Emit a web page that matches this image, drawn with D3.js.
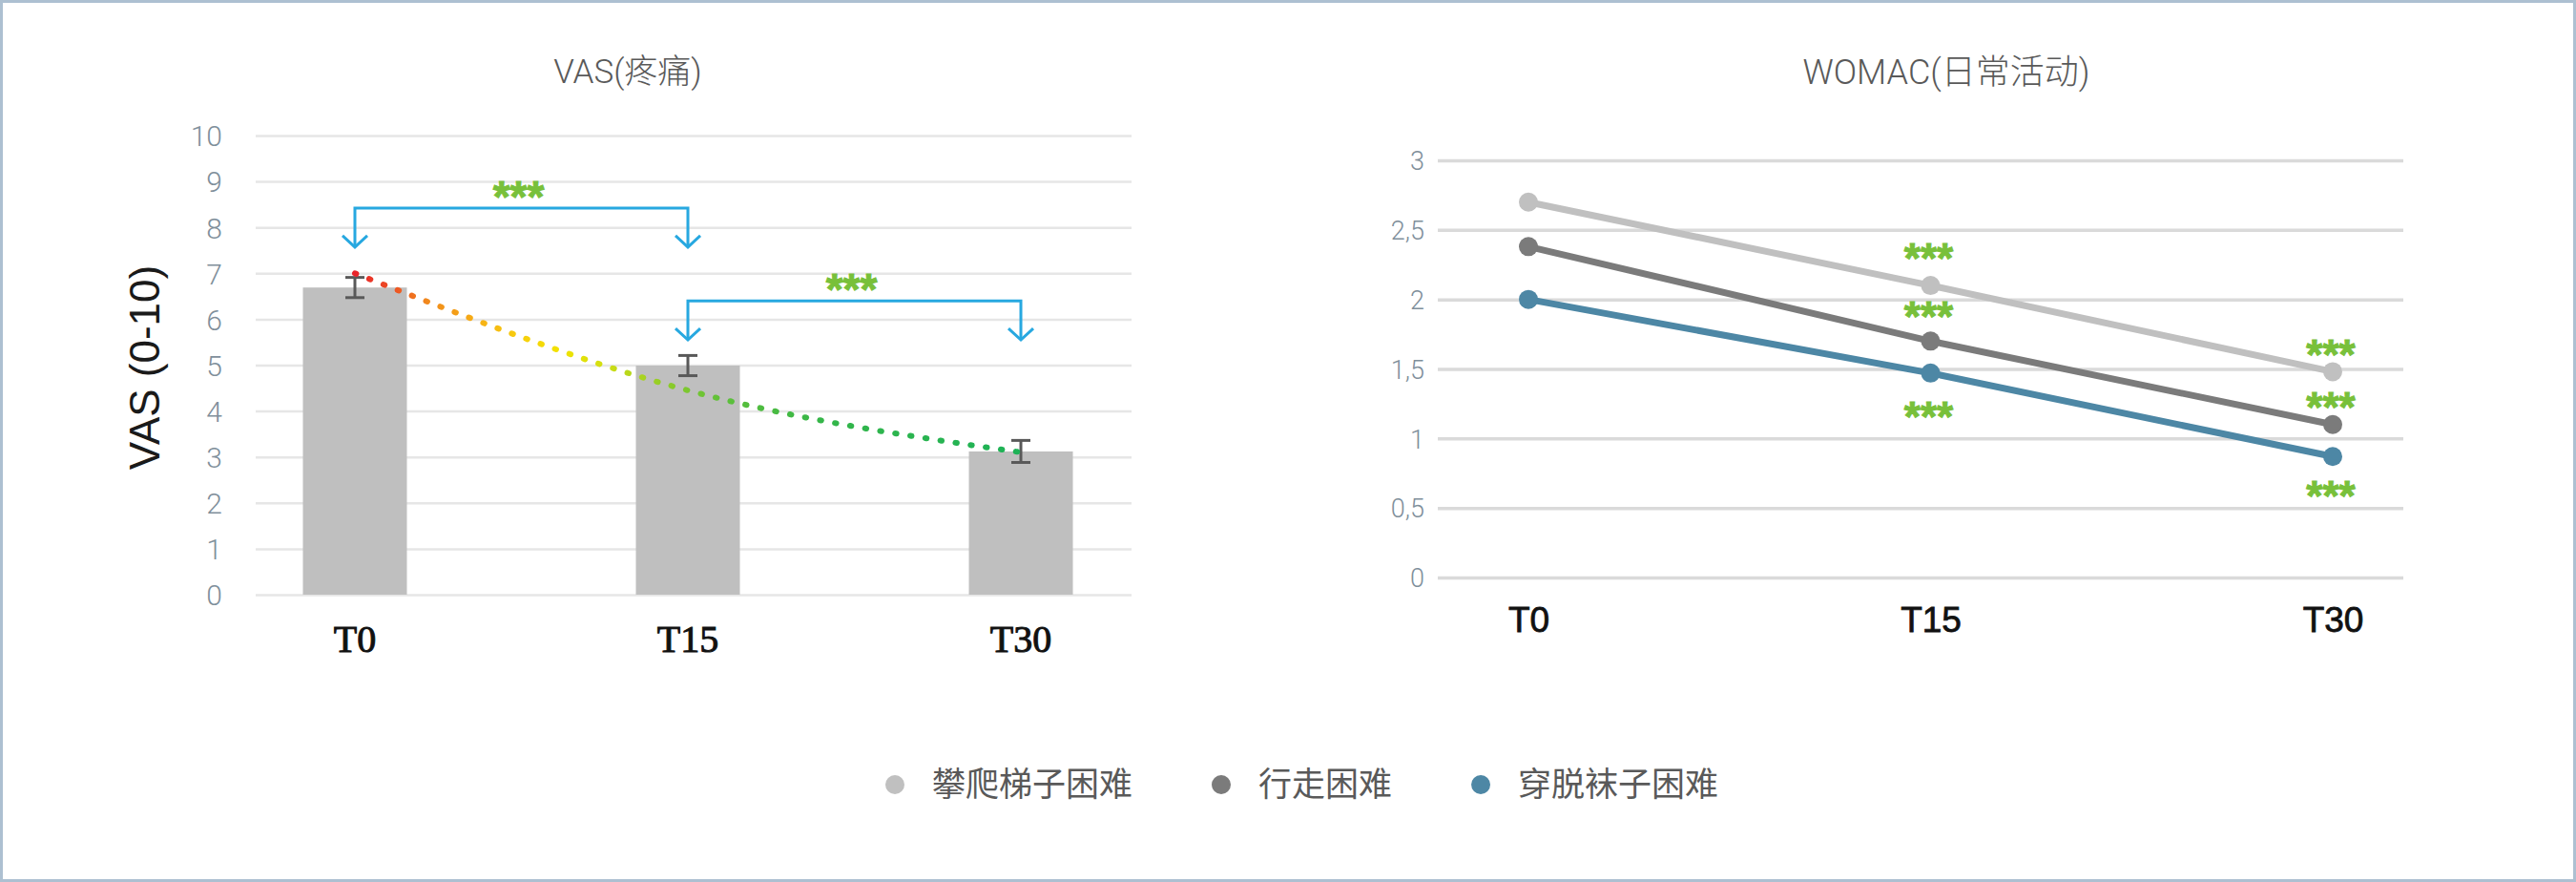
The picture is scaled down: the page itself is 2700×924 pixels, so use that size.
<!DOCTYPE html>
<html><head><meta charset="utf-8">
<script src="https://cdnjs.cloudflare.com/ajax/libs/d3/7.8.5/d3.min.js"></script>
<style>
html,body{margin:0;padding:0;background:#fff;}
svg{display:block;}
</style></head><body>
<svg id="chart" width="2700" height="924"></svg>
<script>
// ---------- data ----------
const vasCategories = ["T0", "T15", "T30"];
const vasMeans = [6.69, 4.99, 3.12];
const vasErrors = [0.22, 0.22, 0.24];
const vasTrend = [7.0, 4.45, 3.1];
const vasTicks = [0, 1, 2, 3, 4, 5, 6, 7, 8, 9, 10];
const vasComparisons = [["T0", "T15", "***"], ["T15", "T30", "***"]];

const womacCategories = ["T0", "T15", "T30"];
const womacSeriesNames = ["攀爬梯子困难", "行走困难", "穿脱袜子困难"];
const climbValues = [2.7, 2.1, 1.48];
const walkValues = [2.38, 1.7, 1.1];
const sockValues = [2.0, 1.47, 0.87];
const womacTicks = [0, 0.5, 1, 1.5, 2, 2.5, 3];
const womacStars = ["***", "***", "***"];

// ---------- setup ----------
const svg = d3.select("#chart");
const SANS = "'Liberation Sans', Arial, 'Noto Sans CJK SC', sans-serif";
const LIGHT = "Roboto, 'Liberation Sans', sans-serif";
const CJK = "'Noto Sans CJK SC', 'Liberation Sans', sans-serif";

svg.append("rect").attr("x", 1.5).attr("y", 1.5).attr("width", 2697).attr("height", 921)
  .attr("fill", "#fff").attr("stroke", "#adc0d1").attr("stroke-width", 3);

// ================= LEFT: VAS =================
const yL = d3.scaleLinear().domain([0, 10]).range([623, 142]);
const xL = d3.scaleBand().domain(vasCategories).range([197.5, 1244.5])
  .paddingInner(0.6877).paddingOuter(0.3438);
const cx = c => xL(c) + xL.bandwidth() / 2;
const gridL0 = 268, gridL1 = 1186;

const gL = svg.append("g");
const yAxisL = gL.append("g").attr("transform", `translate(${gridL0},0)`)
  .call(d3.axisLeft(yL).tickValues(vasTicks).tickSize(-(gridL1 - gridL0)).tickPadding(35));
yAxisL.select(".domain").remove();
yAxisL.selectAll(".tick line").attr("stroke", "#e6e6e6").attr("stroke-width", 2.5);
yAxisL.selectAll(".tick text").attr("font-family", LIGHT).attr("font-weight", 300)
  .attr("font-size", 30).attr("fill", "#7f8f9b").attr("dy", "0.36em");

// bars
gL.selectAll("rect.bar").data(vasCategories).join("rect").attr("class", "bar")
  .attr("x", d => xL(d)).attr("width", xL.bandwidth())
  .attr("y", (d, i) => yL(vasMeans[i])).attr("height", (d, i) => yL(0) - yL(vasMeans[i]))
  .attr("fill", "#bfbfbf");

// error bars
const eb = gL.selectAll("g.err").data(vasCategories).join("g").attr("class", "err")
  .attr("stroke", "#595959").attr("stroke-width", 3);
eb.append("line").attr("x1", d => cx(d)).attr("x2", d => cx(d))
  .attr("y1", (d, i) => yL(vasMeans[i] + vasErrors[i])).attr("y2", (d, i) => yL(vasMeans[i] - vasErrors[i]));
eb.append("line").attr("x1", d => cx(d) - 10).attr("x2", d => cx(d) + 10)
  .attr("y1", (d, i) => yL(vasMeans[i] + vasErrors[i])).attr("y2", (d, i) => yL(vasMeans[i] + vasErrors[i]));
eb.append("line").attr("x1", d => cx(d) - 10).attr("x2", d => cx(d) + 10)
  .attr("y1", (d, i) => yL(vasMeans[i] - vasErrors[i])).attr("y2", (d, i) => yL(vasMeans[i] - vasErrors[i]));

// trend gradient
const defs = svg.append("defs");
const grad = defs.append("linearGradient").attr("id", "trendGrad")
  .attr("gradientUnits", "userSpaceOnUse")
  .attr("x1", cx("T0")).attr("x2", cx("T30")).attr("y1", 0).attr("y2", 0);
[[0, "#e8232a"], [0.05, "#ec4a25"], [0.11, "#f18a1c"], [0.18, "#f6ad16"], [0.25, "#f7cf0d"],
 [0.31, "#f2e300"], [0.37, "#d4df12"], [0.42, "#b2d61d"], [0.47, "#8ccb2a"], [0.55, "#5fc03a"],
 [0.7, "#35b649"], [1, "#1db257"]]
  .forEach(([o, c]) => grad.append("stop").attr("offset", o).attr("stop-color", c));

const trendLine = d3.line().x((d, i) => cx(vasCategories[i])).y(d => yL(d)).curve(d3.curveNatural);
gL.append("path").attr("d", trendLine(vasTrend)).attr("fill", "none")
  .attr("stroke", "url(#trendGrad)").attr("stroke-width", 6)
  .attr("stroke-linecap", "round").attr("stroke-dasharray", "1.5 14.5");

// significance brackets
const bracketLevels = [[8.42, 7.57], [6.40, 5.55]];
vasComparisons.forEach(([a, b, label], k) => {
  const x1 = cx(a), x2 = cx(b);
  const top = yL(bracketLevels[k][0]), tip = yL(bracketLevels[k][1]);
  const g = gL.append("g").attr("fill", "none").attr("stroke", "#27a8e0").attr("stroke-width", 3)
    .attr("stroke-linejoin", "miter");
  g.append("path").attr("d", `M${x1},${tip}L${x1},${top}L${x2},${top}L${x2},${tip}`);
  [x1, x2].forEach(x => g.append("path").attr("d", `M${x - 13},${tip - 12}L${x},${tip}L${x + 13},${tip - 12}`));
  gL.append("text").attr("x", (x1 + x2) / 2 - 3).attr("y", top - 21 + 25)
    .attr("text-anchor", "middle").attr("font-family", SANS).attr("font-weight", "bold")
    .attr("font-size", 46).attr("fill", "#78c03a").attr("stroke", "#78c03a").attr("stroke-width", 1)
    .text(label);
});

// x labels
const xAxisL = gL.append("g").attr("transform", "translate(0,0)")
  .call(d3.axisBottom(xL).tickSize(0));
xAxisL.select(".domain").remove();
xAxisL.selectAll(".tick text").attr("y", 669).attr("dy", "0.35em")
  .attr("font-family", "'Liberation Serif', 'Times New Roman', serif")
  .attr("font-size", 40).attr("fill", "#111").attr("stroke", "#111").attr("stroke-width", 1);

// titles
gL.append("text").attr("x", 658).attr("y", 75).attr("dy", "0.35em").attr("text-anchor", "middle")
  .attr("font-family", LIGHT + ", 'Noto Sans CJK SC'").attr("font-weight", 300).attr("font-size", 35).attr("fill", "#595959")
  .text("VAS(疼痛)");
gL.append("text").attr("transform", "translate(152,385) rotate(-90)").attr("dy", "0.35em")
  .attr("text-anchor", "middle").attr("font-family", SANS).attr("font-size", 44).attr("fill", "#1a1a1a")
  .text("VAS (0-10)");

// ================= RIGHT: WOMAC =================
const yR = d3.scaleLinear().domain([0, 3]).range([605, 168]);
const xR = d3.scalePoint().domain(womacCategories).range([1602, 2445]);
const gridR0 = 1507, gridR1 = 2519;
const gR = svg.append("g");
const yAxisR = gR.append("g").attr("transform", `translate(${gridR0},0)`)
  .call(d3.axisLeft(yR).tickValues(womacTicks).tickSize(-(gridR1 - gridR0)).tickPadding(14)
    .tickFormat(d => String(d).replace(".", ",")));
yAxisR.select(".domain").remove();
yAxisR.selectAll(".tick line").attr("stroke", "#dadada").attr("stroke-width", 3.5);
yAxisR.selectAll(".tick text").attr("font-family", LIGHT).attr("font-weight", 300)
  .attr("font-size", 27).attr("fill", "#7f8f9b").attr("dy", "0.36em");

const series = [
  { name: womacSeriesNames[0], values: climbValues, color: "#c0c0c0" },
  { name: womacSeriesNames[1], values: walkValues, color: "#7b7b7b" },
  { name: womacSeriesNames[2], values: sockValues, color: "#4d87a5" }
];
const lineR = d3.line().x((d, i) => xR(womacCategories[i])).y(d => yR(d));
series.forEach(s => {
  gR.append("path").attr("d", lineR(s.values)).attr("fill", "none")
    .attr("stroke", s.color).attr("stroke-width", 7);
  gR.selectAll(null).data(s.values).join("circle")
    .attr("cx", (d, i) => xR(womacCategories[i])).attr("cy", d => yR(d)).attr("r", 10)
    .attr("fill", s.color);
});

// significance stars (annotation anchors in data units)
const starAnchors = { "T15": [2.36, 1.94, 1.22], "T30": [1.67, 1.29, 0.65] };
Object.entries(starAnchors).forEach(([cat, ys]) => {
  ys.forEach((v, k) => {
    gR.append("text").attr("x", xR(cat) - 2).attr("y", yR(v) + 25).attr("text-anchor", "middle")
      .attr("font-family", SANS).attr("font-weight", "bold").attr("font-size", 44)
      .attr("fill", "#78c03a").attr("stroke", "#78c03a").attr("stroke-width", 1)
      .text(womacStars[k]);
  });
});

const xAxisR = gR.append("g").call(d3.axisBottom(xR).tickSize(0));
xAxisR.select(".domain").remove();
xAxisR.selectAll(".tick text").attr("y", 649).attr("dy", "0.35em")
  .attr("font-family", SANS).attr("font-size", 37).attr("fill", "#111")
  .attr("stroke", "#111").attr("stroke-width", 0.8);

gR.append("text").attr("x", 2040).attr("y", 75).attr("dy", "0.35em").attr("text-anchor", "middle")
  .attr("font-family", LIGHT + ", 'Noto Sans CJK SC'").attr("font-weight", 300).attr("font-size", 36).attr("fill", "#595959")
  .text("WOMAC(日常活动)");

// ================= LEGEND =================
const leg = svg.append("g");
let lx = 938;
series.forEach(s => {
  leg.append("circle").attr("cx", lx).attr("cy", 822).attr("r", 10).attr("fill", s.color);
  const t = leg.append("text").attr("x", lx + 39).attr("y", 822).attr("dy", "0.35em")
    .attr("font-family", CJK).attr("font-size", 35).attr("fill", "#595959").text(s.name);
  lx = lx + 39 + t.node().getComputedTextLength() + 93;
});
</script>
</body></html>
